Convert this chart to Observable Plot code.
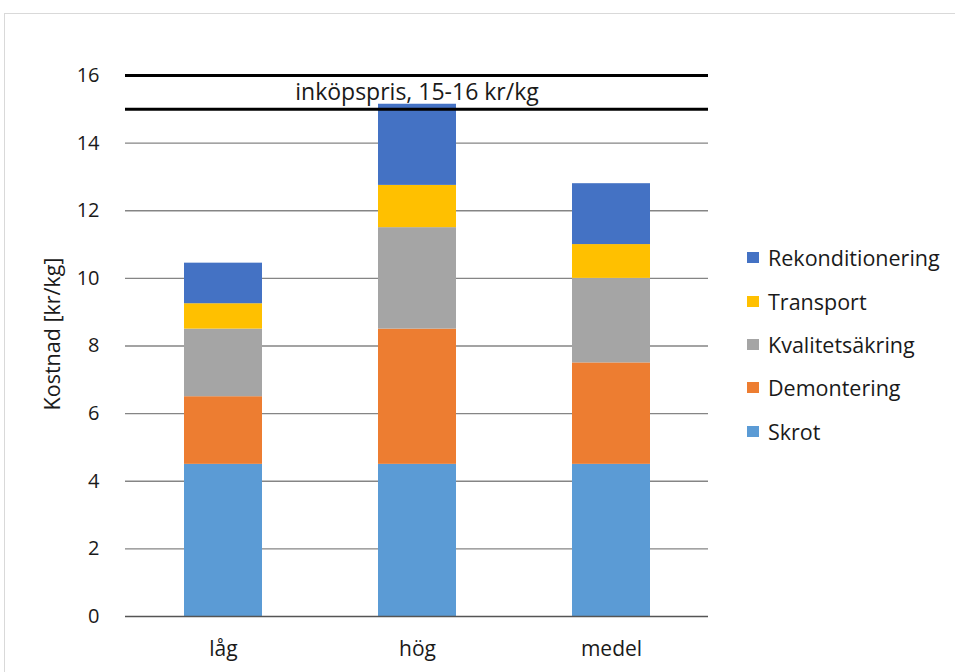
<!DOCTYPE html>
<html>
<head>
<meta charset="utf-8">
<script src="https://cdn.jsdelivr.net/npm/d3@7"></script>
<script src="https://cdn.jsdelivr.net/npm/@observablehq/plot@0.6"></script>
<style>
  html, body { margin: 0; padding: 0; background: #fff; }
  #wrap { position: relative; width: 955px; height: 672px; overflow: hidden; font-family: "Open Sans", sans-serif; }
  #border { position: absolute; left: 4px; top: 13px; width: 980px; height: 700px; border: 1.5px solid #d9d9d9; box-sizing: border-box; }
  #chart { position: absolute; left: 0; top: 0; }
  #legend { position: absolute; left: 747px; top: 236px; }
  .item { display: flex; align-items: center; height: 43.4px; font-size: 21.5px; color: #1a1a1a; }
  .sw { width: 12px; height: 11px; margin-right: 9px; }
</style>
</head>
<body>
<div id="wrap">
  <div id="border"></div>
  <div id="chart"></div>
  <div id="legend"></div>
</div>
<script>
const categories = ["låg", "hög", "medel"];
const series = ["Skrot", "Demontering", "Kvalitetsäkring", "Transport", "Rekonditionering"];
const colors = ["#5B9BD5", "#ED7D31", "#A5A5A5", "#FFC000", "#4472C4"];
const skrot = [4.5, 4.5, 4.5];
const demontering = [2.0, 4.0, 3.0];
const kvalitetsakring = [2.0, 3.0, 2.5];
const transport = [0.75, 1.25, 1.0];
const rekonditionering = [1.2, 2.4, 1.8];
const yTicks = [0, 2, 4, 6, 8, 10, 12, 14, 16];
const gridTicks = [2, 4, 6, 8, 10, 12, 14];
const priceLines = [15, 16];
const priceLabel = "inköpspris, 15-16 kr/kg";
const yLabel = "Kostnad [kr/kg]";

const valuesBySeries = [skrot, demontering, kvalitetsakring, transport, rekonditionering];
const rows = [];
series.forEach((s, si) => {
  categories.forEach((c, ci) => rows.push({cat: c, series: s, value: valuesBySeries[si][ci]}));
});

const plot = Plot.plot({
  width: 955,
  height: 672,
  marginLeft: 125,
  marginRight: 247,
  marginTop: 75,
  marginBottom: 56,
  style: {fontFamily: "Open Sans, sans-serif", fontSize: "17px", color: "#1a1a1a", background: "transparent"},
  x: {domain: categories, paddingInner: 0.6, paddingOuter: 0.3, label: null},
  y: {domain: [0, 16], label: null},
  color: {domain: series, range: colors},
  marks: [
    Plot.ruleY(gridTicks, {stroke: "#858585", strokeWidth: 1.4}),
    Plot.barY(rows, Plot.stackY({order: series}, {x: "cat", y: "value", fill: "series"})),
    Plot.ruleY([0], {stroke: "#555", strokeWidth: 1.6}),
    Plot.ruleY(priceLines, {stroke: "#000", strokeWidth: 3}),
    Plot.text([priceLabel], {y: [15.5], frameAnchor: "middle", text: d => d, fontSize: 23, fill: "#1a1a1a"}),
    Plot.text([yLabel], {frameAnchor: "left", text: d => d, rotate: -90, textAnchor: "middle", lineAnchor: "middle", dx: -72, dy: -12, fontSize: 21.5, fill: "#1a1a1a"}),
    Plot.axisY({ticks: yTicks, tickSize: 0, tickPadding: 26, label: null, fontSize: 20}),
    Plot.axisX({tickSize: 0, tickPadding: 25, label: null, fontSize: 21})
  ]
});
document.getElementById("chart").appendChild(plot);

const legend = document.getElementById("legend");
series.slice().reverse().forEach(s => {
  const it = document.createElement("div");
  it.className = "item";
  const sw = document.createElement("div");
  sw.className = "sw";
  sw.style.background = colors[series.indexOf(s)];
  const tx = document.createElement("span");
  tx.textContent = s;
  it.appendChild(sw);
  it.appendChild(tx);
  legend.appendChild(it);
});
</script>
</body>
</html>
